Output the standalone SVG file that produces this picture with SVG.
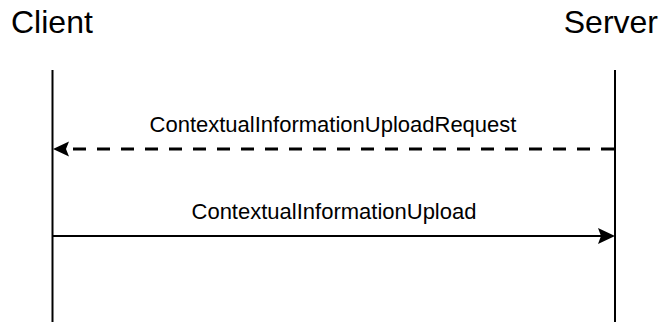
<svg xmlns="http://www.w3.org/2000/svg" width="664" height="322" viewBox="0 0 664 322">
<style>
.actor{font-family:"Liberation Sans",Arial,sans-serif;font-size:32px;fill:#000}
.lbl{font-family:"Liberation Sans",Arial,sans-serif;font-size:22px;fill:#000;text-anchor:middle}
.life{stroke:#000;stroke-width:2;fill:none}
.dash{stroke:#000;stroke-width:3;stroke-dasharray:13 11;fill:none}
.solid{stroke:#000;stroke-width:2;fill:none}
.head{fill:#000}
</style>
<rect width="664" height="322" fill="#fff"/>
<g id="client">
<text class="actor" x="11" y="33">Client</text>
<line class="life" x1="52.5" y1="70" x2="52.5" y2="322"/>
</g>
<g id="server">
<text class="actor" x="658" y="33" text-anchor="end">Server</text>
<line class="life" x1="615" y1="70" x2="615" y2="322"/>
</g>
<g id="connectors">
<g id="msg1">
<line class="dash" x1="614" y1="149" x2="66" y2="149"/>
<polygon class="head" points="53,149 69,141.5 66,149 69,156.5"/>
<text class="lbl" x="333" y="132">ContextualInformationUploadRequest</text>
</g>
<g id="msg2">
<line class="solid" x1="53" y1="236" x2="602" y2="236"/>
<polygon class="head" points="615,236 598,228 601,236 598,244"/>
<text class="lbl" x="334" y="219">ContextualInformationUpload</text>
</g>
</g>
</svg>
